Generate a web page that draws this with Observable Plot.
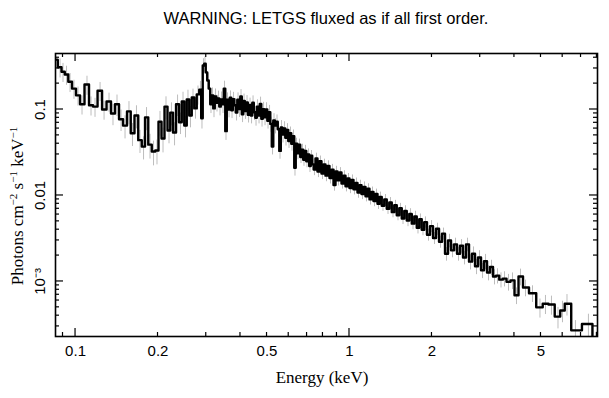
<!DOCTYPE html>
<html><head><meta charset="utf-8">
<script src="https://cdn.jsdelivr.net/npm/d3@7"></script>
<script src="https://cdn.jsdelivr.net/npm/@observablehq/plot@0.6"></script>
<style>body{margin:0;background:#fff}</style>
</head><body><div id="chart"></div>
<script>
// Bin centres (keV)
const energyKeV = [
0.0845,0.0878,0.0900,0.0927,0.0955,0.0987,0.1021,0.1056,0.1101,0.1139,
0.1178,0.1229,0.1271,0.1325,0.1370,0.1417,0.1466,0.1516,0.1567,0.1614,
0.1669,0.1719,0.1771,0.1816,0.1870,0.1926,0.1983,0.2034,0.2086,0.2139,
0.2194,0.2240,0.2298,0.2357,0.2416,0.2468,0.2520,0.2573,0.2628,0.2684,
0.2741,0.2799,0.2858,0.2894,0.2931,0.2968,0.3006,0.3044,0.3083,0.3122,
0.3162,0.3202,0.3243,0.3284,0.3326,0.3368,0.3411,0.3454,0.3498,0.3542,
0.3587,0.3633,0.3679,0.3726,0.3773,0.3821,0.3870,0.3919,0.3969,0.4019,
0.4070,0.4122,0.4174,0.4227,0.4281,0.4335,0.4390,0.4446,0.4502,0.4559,
0.4617,0.4676,0.4735,0.4795,0.4856,0.4917,0.4980,0.5043,0.5107,0.5171,
0.5237,0.5303,0.5370,0.5438,0.5507,0.5577,0.5648,0.5719,0.5792,0.5865,
0.5939,0.6015,0.6091,0.6168,0.6246,0.6325,0.6405,0.6486,0.6568,0.6652,
0.6736,0.6821,0.6908,0.6995,0.7084,0.7174,0.7265,0.7357,0.7450,0.7576,
0.7705,0.7836,0.7969,0.8104,0.8242,0.8382,0.8524,0.8669,0.8816,0.8965,
0.9117,0.9272,0.9429,0.9589,0.9751,0.9916,1.0084,1.0255,1.0429,1.0606,
1.0786,1.0968,1.1155,1.1344,1.1536,1.1732,1.1931,1.2133,1.2339,1.2548,
1.2761,1.2977,1.3252,1.3534,1.3822,1.4116,1.4416,1.4722,1.5034,1.5354,
1.5680,1.6013,1.6354,1.6701,1.7056,1.7418,1.7783,1.8160,1.8546,1.8939,
1.9423,1.9927,2.0435,2.0957,2.1492,2.2040,2.2603,2.3180,2.3772,2.4379,
2.5001,2.5640,2.6294,2.6966,2.7654,2.8360,2.9084,2.9827,3.0588,3.1369,
3.2170,3.2991,3.3833,3.4697,3.5732,3.6799,3.8057,3.9358,4.0704,4.2096,
4.3901,4.6554,4.9575,5.1925,5.4612,5.7680,5.9903,6.2213,6.6800,7.4500,7.9700
];
// Flux (photons cm^-2 s^-1 keV^-1)
const fluxValues = [
0.38,0.31,0.275,0.255,0.21,0.175,0.146,0.115,0.195,0.112,
0.108,0.165,0.100,0.124,0.090,0.115,0.077,0.065,0.095,0.053,
0.085,0.044,0.037,0.081,0.039,0.0325,0.0334,0.072,0.046,0.108,
0.057,0.092,0.054,0.115,0.071,0.124,0.065,0.131,0.085,0.138,
0.103,0.150,0.170,0.079,0.325,0.340,0.270,0.217,0.175,0.115,
0.146,0.103,0.142,0.120,0.134,0.108,0.131,0.115,0.175,0.056,
0.130,0.100,0.137,0.098,0.132,0.112,0.092,0.130,0.101,0.142,
0.088,0.126,0.096,0.121,0.087,0.113,0.085,0.120,0.093,0.080,
0.108,0.085,0.116,0.078,0.101,0.081,0.100,0.074,0.093,0.068,
0.037,0.0745,0.065,0.072,0.059,0.033,0.062,0.051,0.060,0.047,
0.058,0.043,0.053,0.040,0.049,0.021,0.040,0.031,0.039,0.028,
0.034,0.026,0.033,0.025,0.030,0.022,0.029,0.023,0.020,0.027,
0.019,0.025,0.018,0.023,0.017,0.022,0.016,0.020,0.0132,0.019,
0.0150,0.0185,0.0138,0.0170,0.0128,0.0158,0.0122,0.0152,0.0118,0.0140,
0.0108,0.0132,0.0104,0.0126,0.0098,0.0120,0.0090,0.0110,0.0086,0.0104,
0.0080,0.0096,0.0076,0.0090,0.0070,0.0083,0.0064,0.0077,0.0059,0.0071,
0.0054,0.0066,0.0051,0.0061,0.0047,0.0057,0.0042,0.0053,0.0040,0.0049,
0.0035,0.0044,0.0032,0.0041,0.0029,0.0036,0.0021,0.0030,0.0023,0.0027,
0.0021,0.0026,0.0019,0.0027,0.0017,0.0021,0.0015,0.0019,0.00135,0.00172,
0.00127,0.00147,0.00114,0.00117,0.00105,0.00108,0.00099,0.00103,0.00069,0.00114,
0.00085,0.00073,0.00050,0.00055,0.00054,0.00039,0.00046,0.00055,0.00027,0.00032,0.00020
];
// 1-sigma error, percent of flux
const errorPercent = [
25,25,25,25,25,25,25,25,25,25,
25,25,25,25,28,28,28,30,30,30,
30,30,30,30,32,32,32,32,32,30,
30,30,30,28,28,28,28,28,28,25,
25,25,25,25,20,20,20,22,22,22,
22,22,22,22,22,22,22,22,22,22,
20,20,20,20,20,20,20,20,20,20,
20,20,20,20,20,20,20,20,20,20,
20,20,20,20,20,20,20,20,20,20,
20,20,20,20,20,20,20,20,20,20,
18,18,18,18,18,20,16,16,16,16,
16,16,16,16,16,16,15,15,15,15,
15,15,15,15,15,15,15,15,15,15,
14,14,14,14,14,14,14,14,14,14,
14,14,14,14,14,14,14,14,14,14,
14,14,14,14,14,14,14,14,14,14,
15,15,15,15,15,15,15,15,15,15,
16,16,16,16,16,16,18,18,18,18,
18,18,18,18,20,20,20,20,20,20,
20,20,20,20,20,20,22,22,22,22,
22,22,25,25,25,28,28,28,30,30,30
];
const xTickValues = [0.1, 0.2, 0.5, 1, 2, 5];
const yTickValues = [0.1, 0.01, 0.001];
const yTickLabels = ["0.1", "0.01", "10\u207B\u00B3"];
const titleText = "WARNING: LETGS fluxed as if all first order.";
const xLabel = "Energy (keV)";

const rows = energyKeV.map((e, i) => ({
  e, f: fluxValues[i],
  lo: fluxValues[i] * (1 - errorPercent[i] / 100),
  hi: fluxValues[i] * (1 + errorPercent[i] / 100)
}));

const chart = Plot.plot({
  width: 609, height: 398,
  marginLeft: 55, marginRight: 12, marginTop: 53, marginBottom: 62,
  style: {fontFamily: "'Liberation Sans', Arial, sans-serif", background: "white", color: "black", overflow: "visible"},
  x: {type: "log", domain: [0.0845, 8.04]},
  y: {type: "log", domain: [0.000229, 0.448]},
  marks: [
    Plot.ruleX(rows, {x: "e", y1: "lo", y2: "hi", stroke: "#bdbdbd", strokeWidth: 1, clip: true}),
    Plot.line(rows, {x: "e", y: "f", curve: "step", stroke: "black", strokeWidth: 2.4, clip: true}),
    Plot.frame({stroke: "black", strokeWidth: 1.6}),
    Plot.axisX({ticks: xTickValues, tickFormat: d => String(d), tickSize: 0, tickPadding: 9, fontSize: 15, label: null}),
    Plot.axisY({ticks: yTickValues, tickFormat: d => yTickLabels[yTickValues.indexOf(d)], tickSize: 0, tickPadding: 15, rotate: -90, textAnchor: "middle", fontSize: 15, label: null})
  ]
});
document.getElementById("chart").appendChild(chart);

// inward ticks on all four sides, placed with the plot's own scales
const sx = chart.scale("x"), sy = chart.scale("y");
const [L, R] = sx.range, [B, T] = sy.range;
const svg = d3.select(chart);
const g = svg.append("g").attr("stroke", "black").attr("stroke-width", 1.2);
const xMinor = [0.09,0.2,0.3,0.4,0.5,0.6,0.7,0.8,0.9,2,3,4,5,6,7,8];
const xMajor = [0.1, 1];
const yMajor = [0.001, 0.01, 0.1];
const yMinor = [];
for (const dec of [1e-4, 1e-3, 1e-2, 1e-1]) for (let m = 2; m <= 9; m++) {
  const v = m * dec; if (v > sy.domain[0] && v < sy.domain[1]) yMinor.push(v);
}
function xt(v, len) {
  const p = sx.apply(v);
  g.append("line").attr("x1", p).attr("x2", p).attr("y1", B).attr("y2", B - len);
  g.append("line").attr("x1", p).attr("x2", p).attr("y1", T).attr("y2", T + len);
}
function yt(v, len) {
  const p = sy.apply(v);
  g.append("line").attr("y1", p).attr("y2", p).attr("x1", L).attr("x2", L + len);
  g.append("line").attr("y1", p).attr("y2", p).attr("x1", R).attr("x2", R - len);
}
xMinor.forEach(v => xt(v, 4)); xMajor.forEach(v => xt(v, 8));
yMinor.forEach(v => yt(v, 4)); yMajor.forEach(v => yt(v, 8));

// title
svg.append("text").attr("x", (L + R) / 2).attr("y", 24).attr("text-anchor", "middle")
  .attr("font-family", "'Liberation Sans', Arial, sans-serif").attr("font-size", 16.5).attr("fill", "black").text(titleText);
// x label
svg.append("text").attr("x", 322).attr("y", 383).attr("text-anchor", "middle")
  .attr("font-family", "'Liberation Serif', 'Times New Roman', serif").attr("font-size", 17).attr("fill", "black").text(xLabel);
// y label with superscripts
const ylab = svg.append("text").attr("transform", `translate(23, 206) rotate(-90)`).attr("text-anchor", "middle")
  .attr("font-family", "'Liberation Serif', 'Times New Roman', serif").attr("font-size", 17).attr("fill", "black");
const parts = [["Photons cm", false], ["\u22122", true], [" s", false], ["\u22121", true], [" keV", false], ["\u22121", true]];
parts.forEach(([t, sup]) => {
  const ts = ylab.append("tspan").text(t);
  if (sup) ts.attr("font-size", 11).attr("baseline-shift", "6");
});
</script>
</body></html>
